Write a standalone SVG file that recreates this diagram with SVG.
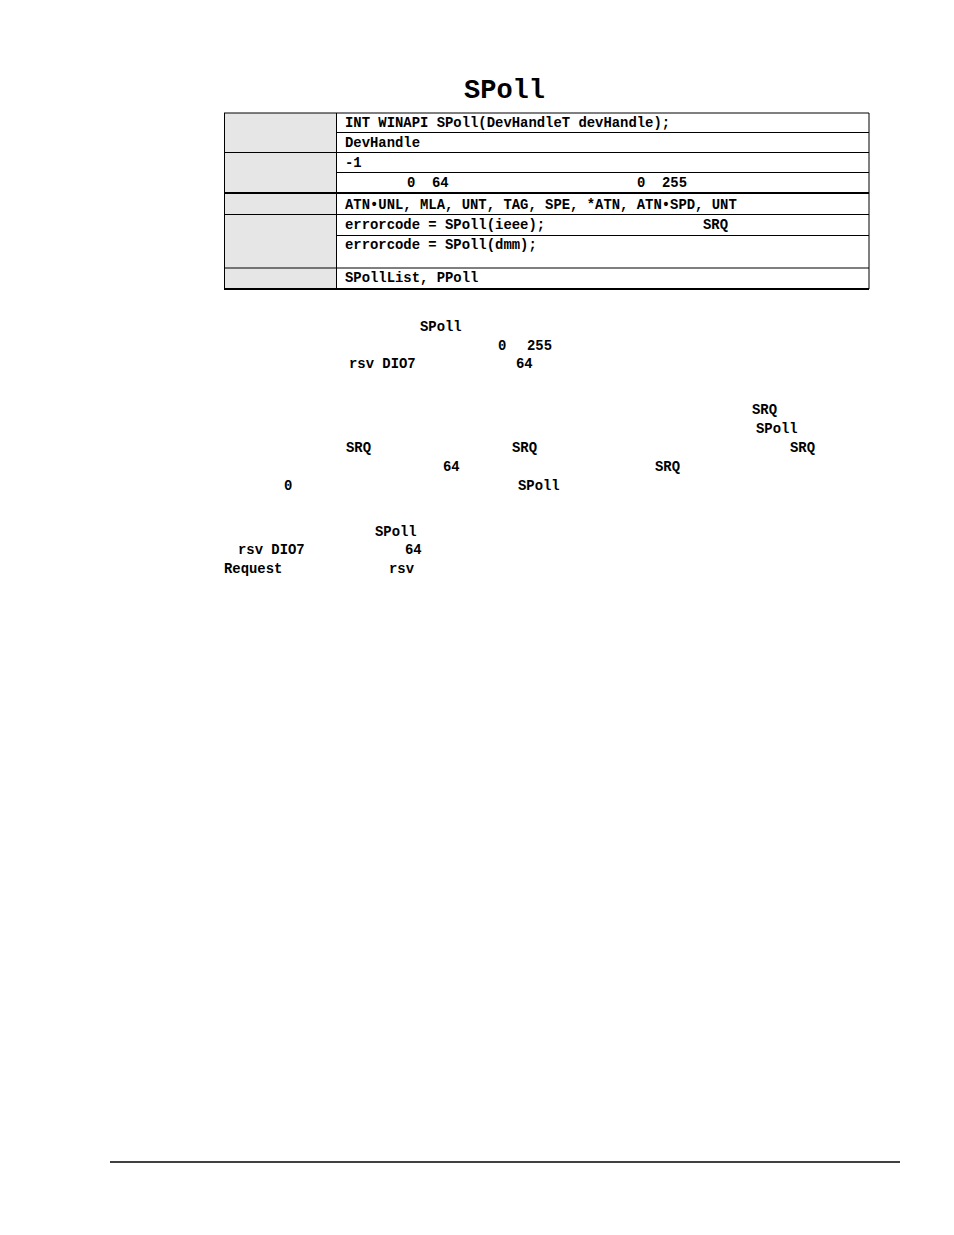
<svg xmlns="http://www.w3.org/2000/svg" width="954" height="1235" viewBox="0 0 954 1235">
<style>
.t{font-family:"Liberation Mono","Courier New",monospace;font-weight:bold;font-size:13.9px;fill:#000}
.title{font-family:"Liberation Mono","Courier New",monospace;font-weight:bold;font-size:27px;fill:#000}
.g{fill:#e6e6e6;stroke:none}
.ln{stroke:#000;stroke-width:1;fill:none}
.thk{stroke:#000;stroke-width:2;fill:none}
</style>
<rect width="954" height="1235" fill="#fff"/>
<text class="title" x="464" y="98">SPoll</text>
<g id="table">
<rect class="g" x="224" y="113" width="112" height="176"/>
<line class="ln" x1="224" y1="113" x2="869" y2="113"/>
<line class="ln" x1="336" y1="132.5" x2="869" y2="132.5"/>
<line class="ln" x1="224" y1="152.5" x2="869" y2="152.5"/>
<line class="ln" x1="336" y1="172.5" x2="869" y2="172.5"/>
<line class="thk" x1="224" y1="193" x2="869" y2="193"/>
<line class="ln" x1="224" y1="214.5" x2="869" y2="214.5"/>
<line class="ln" x1="336" y1="235.5" x2="869" y2="235.5"/>
<line class="ln" x1="224" y1="268" x2="869" y2="268"/>
<line class="thk" x1="224" y1="289" x2="869" y2="289"/>
<line class="ln" x1="224.5" y1="113" x2="224.5" y2="289"/>
<line class="ln" x1="336.5" y1="113" x2="336.5" y2="289"/>
<line class="ln" x1="869" y1="113" x2="869" y2="289"/>
<text class="t" x="345" y="126.5">INT WINAPI SPoll(DevHandleT devHandle);</text>
<text class="t" x="345" y="146.5">DevHandle</text>
<text class="t" x="345" y="166.5">-1</text>
<text class="t" x="407" y="186.5">0</text>
<text class="t" x="432" y="186.5">64</text>
<text class="t" x="637" y="186.5">0</text>
<text class="t" x="662" y="186.5">255</text>
<text class="t" x="345" y="209">ATN•UNL, MLA, UNT, TAG, SPE, *ATN, ATN•SPD, UNT</text>
<text class="t" x="345" y="229">errorcode = SPoll(ieee);</text>
<text class="t" x="703" y="229">SRQ</text>
<text class="t" x="345" y="249">errorcode = SPoll(dmm);</text>
<text class="t" x="345" y="282">SPollList, PPoll</text>
</g>
<g id="body">
<text class="t" x="420" y="331">SPoll</text>
<text class="t" x="498" y="350">0</text>
<text class="t" x="527" y="350">255</text>
<text class="t" x="349" y="368">rsv DIO7</text>
<text class="t" x="516" y="368">64</text>
<text class="t" x="752" y="414">SRQ</text>
<text class="t" x="756" y="433">SPoll</text>
<text class="t" x="346" y="452">SRQ</text>
<text class="t" x="512" y="452">SRQ</text>
<text class="t" x="790" y="452">SRQ</text>
<text class="t" x="443" y="471">64</text>
<text class="t" x="655" y="471">SRQ</text>
<text class="t" x="284" y="490">0</text>
<text class="t" x="518" y="490">SPoll</text>
<text class="t" x="375" y="536">SPoll</text>
<text class="t" x="238" y="554">rsv DIO7</text>
<text class="t" x="405" y="554">64</text>
<text class="t" x="224" y="573">Request</text>
<text class="t" x="389" y="573">rsv</text>
</g>
<line x1="110" y1="1162" x2="900" y2="1162" stroke="#000" stroke-width="1.3"/>
</svg>
